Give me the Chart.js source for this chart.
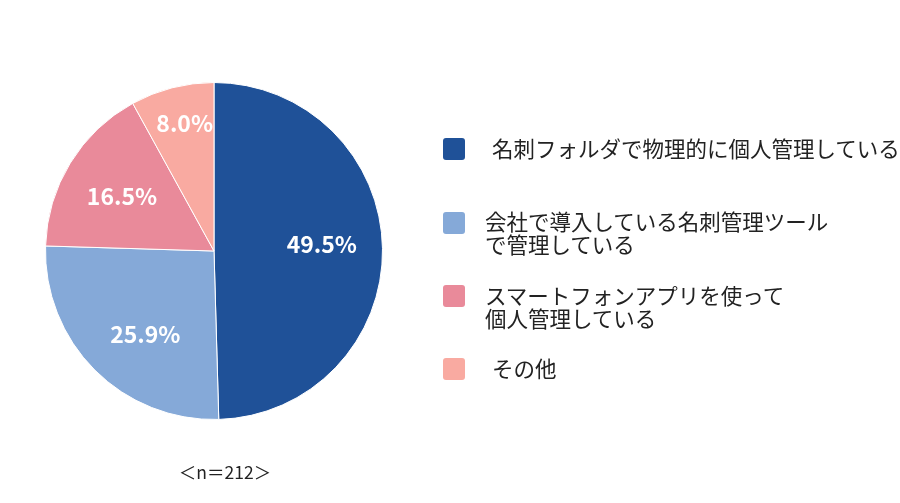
<!DOCTYPE html>
<html>
<head>
<meta charset="utf-8">
<script src="https://cdn.jsdelivr.net/npm/chart.js@4/dist/chart.umd.min.js"></script>
<style>
  html, body { margin:0; padding:0; background:#fff; }
  #wrap { position:relative; width:900px; height:503px; overflow:hidden; }
  #c { position:absolute; left:0; top:0; }
  .leg { position:absolute; left:443px; font-family:"Noto Sans CJK JP","Noto Sans",sans-serif; font-size:21.5px; color:#222; }
  .leg .sw { position:absolute; left:0; width:22px; height:22px; border-radius:3px; }
  .leg .tx { position:absolute; white-space:pre; line-height:23px; }
  #n { position:absolute; left:0; width:450px; top:459px; text-align:center; font-family:"Noto Sans CJK JP",sans-serif; font-size:17.5px; color:#222; }
</style>
</head>
<body>
<div id="wrap">
  <canvas id="c" width="900" height="503"></canvas>
  <div id="legend"></div>
  <div id="n"></div>
</div>
<script>
const categories = [
  " 名刺フォルダで物理的に個人管理している",
  "会社で導入している名刺管理ツール\nで管理している",
  "スマートフォンアプリを使って\n個人管理している",
  " その他"
];
const values = [49.5, 25.9, 16.5, 8.0];
const colors = ["#1F5198", "#85A9D8", "#E98A9A", "#F9AAA1"];
const sampleLabel = "＜n＝212＞";

// legend layout (positions only)
const legendTops = [138, 212, 285, 358];
const legendTextTops = [137, 210, 284, 357];
const legendTextLeft = [49, 42, 42, 49];

const legendEl = document.getElementById('legend');
categories.forEach((cat, i) => {
  const d = document.createElement('div');
  d.className = 'leg';
  d.style.top = legendTops[i] + 'px';
  const sw = document.createElement('div');
  sw.className = 'sw';
  sw.style.background = colors[i];
  const tx = document.createElement('div');
  tx.className = 'tx';
  tx.style.left = legendTextLeft[i] + 'px';
  tx.style.top = (legendTextTops[i] - legendTops[i] - 1) + 'px';
  tx.textContent = cat.replace(/^ /, '');
  d.appendChild(sw);
  d.appendChild(tx);
  legendEl.appendChild(d);
});
document.getElementById('n').textContent = sampleLabel;

const labelPlugin = {
  id: 'sliceLabels',
  afterDatasetsDraw(chart) {
    const ctx = chart.ctx;
    const meta = chart.getDatasetMeta(0);
    const factors = [0.64, 0.66, 0.64, 0.77];
    const ox = [0, 10, 0, 3];
    const oy = [-5, 5, 2, -2];
    ctx.save();
    ctx.fillStyle = '#ffffff';
    ctx.font = 'bold 23px "Noto Sans CJK JP", "Noto Sans", sans-serif';
    ctx.textAlign = 'center';
    ctx.textBaseline = 'middle';
    meta.data.forEach((arc, i) => {
      const mid = (arc.startAngle + arc.endAngle) / 2;
      const r = arc.outerRadius * factors[i];
      const x = arc.x + Math.cos(mid) * r + ox[i];
      const y = arc.y + Math.sin(mid) * r + oy[i];
      ctx.fillText(values[i].toFixed(1) + '%', x, y);
    });
    ctx.restore();
  }
};

new Chart(document.getElementById('c'), {
  type: 'pie',
  data: {
    labels: categories,
    datasets: [{
      data: values,
      backgroundColor: colors,
      borderColor: '#ffffff',
      borderWidth: 1
    }]
  },
  options: {
    responsive: false,
    animation: false,
    layout: { padding: { left: 45, right: 517, top: 82, bottom: 83 } },
    plugins: { legend: { display: false }, tooltip: { enabled: false } }
  },
  plugins: [labelPlugin]
});
</script>
</body>
</html>
